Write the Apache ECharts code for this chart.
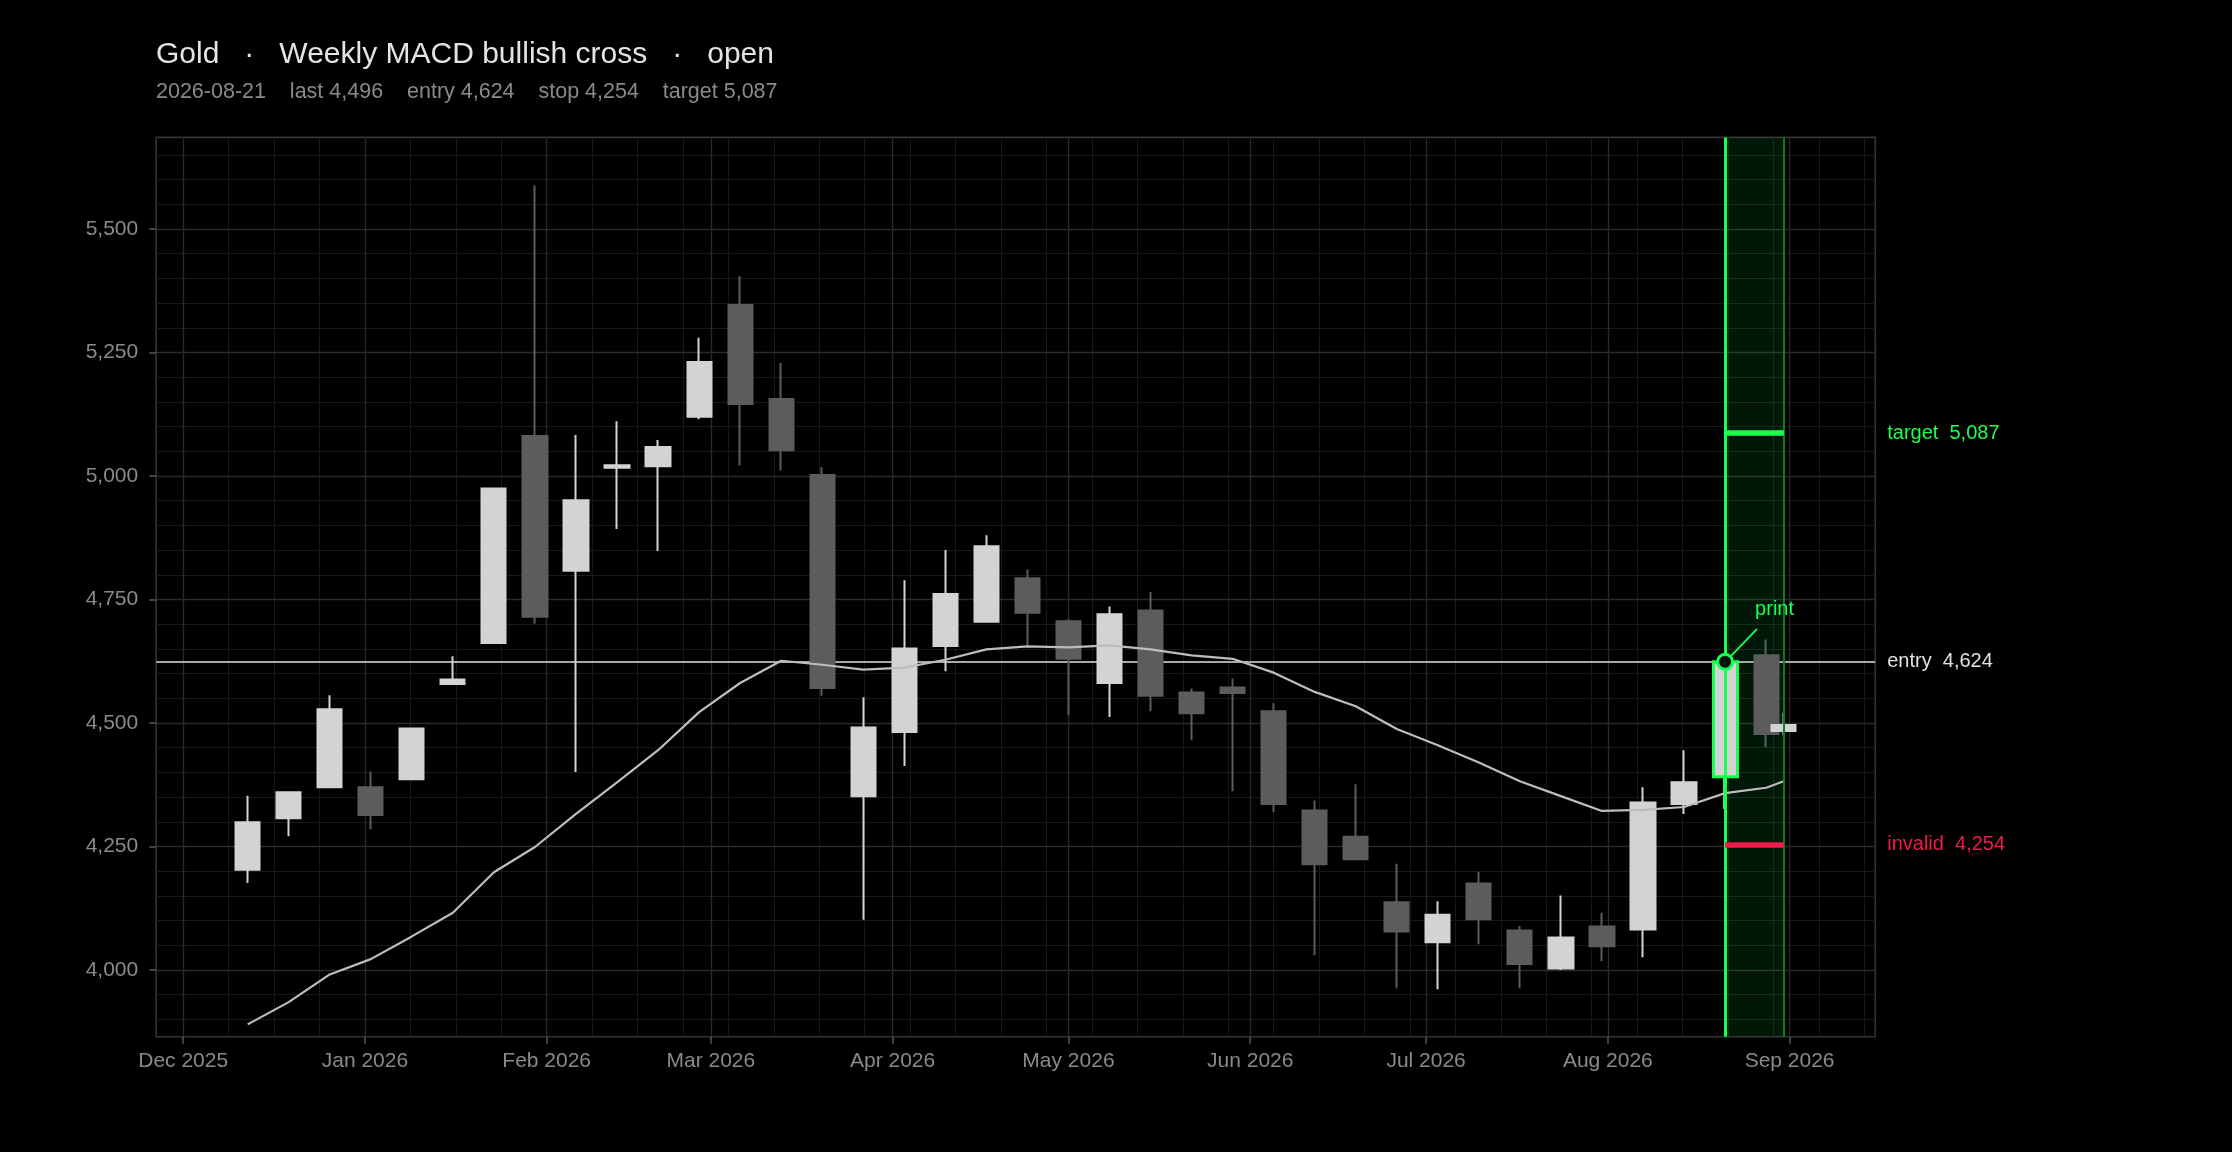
<!DOCTYPE html>
<html>
<head>
<meta charset="utf-8">
<script src="https://cdn.jsdelivr.net/npm/echarts@6/dist/echarts.min.js"></script>
<style>
html,body{margin:0;padding:0;background:#000;}
#chart{width:2232px;height:1152px;}
</style>
</head>
<body>
<div id="chart"></div>
<script>
// ---------- data ----------
const candleDates = ['2025-12-12','2025-12-19','2025-12-26','2026-01-02','2026-01-09','2026-01-16','2026-01-23','2026-01-30',
  '2026-02-06','2026-02-13','2026-02-20','2026-02-27','2026-03-06','2026-03-13','2026-03-20','2026-03-27',
  '2026-04-03','2026-04-10','2026-04-17','2026-04-24','2026-05-01','2026-05-08','2026-05-15','2026-05-22','2026-05-29',
  '2026-06-05','2026-06-12','2026-06-19','2026-06-26','2026-07-03','2026-07-10','2026-07-17','2026-07-24','2026-07-31',
  '2026-08-07','2026-08-14','2026-08-21','2026-08-28','2026-08-31'];
const opens  = [4203,4307,4370,4370,4386,4579,4662,5081,4808,5017,5020,5120,5346,5156,5002,4352,4482,4656,4705,4793,4706,4581,4728,4562,4572,4524,4323,4270,4137,4056,4175,4080,4003,4088,4082,4336,4391,4637,4484];
const closes = [4299,4360,4528,4314,4489,4588,4975,4715,4951,5022,5059,5231,5146,5052,4571,4491,4651,4761,4858,4723,4630,4720,4555,4520,4561,4336,4214,4224,4078,4112,4103,4012,4066,4048,4339,4380,4624,4478,4496];
const highs  = [4353,4362,4556,4402,4490,4635,4976,5588,5083,5111,5073,5280,5405,5229,5018,4552,4789,4850,4880,4811,4710,4736,4765,4570,4590,4540,4343,4376,4215,4139,4199,4089,4151,4116,4370,4445,4626,4669,4521];
const lows   = [4176,4271,4369,4285,4384,4577,4661,4701,4401,4893,4848,5115,5022,5011,4555,4102,4413,4605,4704,4657,4516,4512,4524,4465,4362,4320,4030,4222,3963,3961,4052,3963,4000,4018,4026,4316,4326,4451,4475];
const maValues = [3890,3935,3991,4022,4068,4116,4198,4249,4316,4380,4445,4522,4581,4626,4618,4608,4612,4628,4649,4655,4653,4657,4649,4637,4630,4602,4563,4534,4488,4455,4420,4382,4352,4322,4324,4330,4358,4369,4382];

const monthTicks  = ['2025-12-01','2026-01-01','2026-02-01','2026-03-01','2026-04-01','2026-05-01','2026-06-01','2026-07-01','2026-08-01','2026-09-01'];
const monthLabels = ['Dec 2025','Jan 2026','Feb 2026','Mar 2026','Apr 2026','May 2026','Jun 2026','Jul 2026','Aug 2026','Sep 2026'];
const priceTicks  = [4000,4250,4500,4750,5000,5250,5500];

const ASSET = 'Gold', SETUP = 'Weekly MACD bullish cross', STATUS = 'open';
const SIGNAL_DATE = '2026-08-21', LAST_DATE = '2026-08-31';
const LAST = 4496, ENTRY = 4624, STOP = 4254, TARGET = 5087;
const Y_MIN = 3865, Y_MAX = 5685.5;

// ---------- helpers ----------
const DAY = 86400000;
const ts = s => Date.parse(s + 'T00:00:00Z');
const fmt = v => Math.round(v).toLocaleString('en-US');

const FONT = "'Liberation Sans', Arial, Helvetica, sans-serif";
const UP = '#d3d3d3', DOWN = '#5c5c5c';
const GREEN = '#1aff50', GREEN_DIM = '#0e7d28', RED = '#f2194b';
const GRID_MINOR = '#191919', GRID_MAJOR = '#2a2a2a';

const G = {left:156.2, top:137.4, width:1719, height:899.3};

const candleDays = 4.55;
const signalIdx = candleDates.indexOf(SIGNAL_DATE);
const tFirst = ts(candleDates[0]) - candleDays / 2 * DAY;
const tLast  = ts(candleDates[candleDates.length - 1]) + candleDays / 2 * DAY;
const pad = 0.05 * (tLast - tFirst);
const X_MIN = tFirst - pad, X_MAX = tLast + pad;
const candlePx = G.width * candleDays * DAY / (X_MAX - X_MIN);

const monthTs = monthTicks.map(ts);

// minor gridlines (axis subdivision)
const xMinorStep = (monthTs[1] - monthTs[0]) / 4;
const xMinor = [];
for (let k = Math.ceil((X_MIN - monthTs[0]) / xMinorStep); monthTs[0] + k * xMinorStep <= X_MAX; k++) xMinor.push(monthTs[0] + k * xMinorStep);
const yMinorStep = (priceTicks[1] - priceTicks[0]) / 5;
const yMinor = [];
for (let v = Math.ceil(Y_MIN / yMinorStep) * yMinorStep; v <= Y_MAX; v += yMinorStep) yMinor.push(v);

const gridLines = [];
xMinor.forEach(t => gridLines.push({xAxis: t, lineStyle: {color: GRID_MINOR, width: 1, type: 'solid'}}));
yMinor.forEach(v => gridLines.push({yAxis: v, lineStyle: {color: GRID_MINOR, width: 1, type: 'solid'}}));
monthTs.forEach(t => { if (t > X_MIN && t < X_MAX) gridLines.push({xAxis: t, lineStyle: {color: GRID_MAJOR, width: 1.3, type: 'solid'}}); });
priceTicks.forEach(v => gridLines.push({yAxis: v, lineStyle: {color: GRID_MAJOR, width: 1.3, type: 'solid'}}));

const candleData = candleDates.map((d, i) => {
  const val = [ts(d), opens[i], closes[i], lows[i], highs[i]];
  if (i === signalIdx) return {value: val, itemStyle: {color: UP, borderColor: GREEN, borderWidth: 3}};
  return val;
});
const maData = candleDates.map((d, i) => [ts(d), maValues[i]]);

const sigT = ts(SIGNAL_DATE), lastT = ts(LAST_DATE);

const chart = echarts.init(document.getElementById('chart'), null, {renderer: 'canvas'});
chart.setOption({
  backgroundColor: '#000',
  animation: false,
  title: [
    {text: ASSET + '   ·   ' + SETUP + '   ·   ' + STATUS, left: 156, top: 40, padding: 0,
     textStyle: {fontFamily: FONT, fontSize: 30, fontWeight: 'normal', color: '#e4e4e4'}},
    {text: SIGNAL_DATE + '    last ' + fmt(LAST) + '    entry ' + fmt(ENTRY) + '    stop ' + fmt(STOP) + '    target ' + fmt(TARGET),
     left: 156, top: 81, padding: 0,
     textStyle: {fontFamily: FONT, fontSize: 21.5, fontWeight: 'normal', color: '#8a8a8a'}}
  ],
  grid: {left: G.left, top: G.top, width: G.width, height: G.height, show: true,
         borderColor: '#343434', borderWidth: 1.6, backgroundColor: 'transparent'},
  xAxis: {
    type: 'value', min: X_MIN, max: X_MAX,
    axisLine: {show: false},
    splitLine: {show: false},
    axisTick: {show: true, customValues: monthTs, length: 7, lineStyle: {color: '#5a5a5a', width: 1.5}},
    axisLabel: {show: true, customValues: monthTs, margin: 14, fontFamily: FONT, fontSize: 21, color: '#8a8a8a',
      formatter: v => { const i = monthTs.indexOf(v); return i >= 0 ? monthLabels[i] : ''; }}
  },
  yAxis: [
    {type: 'value', min: Y_MIN, max: Y_MAX, position: 'left',
     axisLine: {show: false}, splitLine: {show: false},
     axisTick: {show: true, customValues: priceTicks, length: 7, lineStyle: {color: '#5a5a5a', width: 1.5}},
     axisLabel: {show: true, customValues: priceTicks, margin: 18, fontFamily: FONT, fontSize: 21, color: '#8a8a8a',
       formatter: v => fmt(v)}},
    {type: 'value', min: Y_MIN, max: Y_MAX, position: 'right',
     axisLine: {show: false}, splitLine: {show: false}, axisTick: {show: false},
     axisLabel: {show: true, customValues: [STOP, ENTRY, TARGET], margin: 12, fontFamily: FONT, fontSize: 20,
       formatter: v => v === TARGET ? '{t|target  ' + fmt(v) + '}' : (v === ENTRY ? '{e|entry  ' + fmt(v) + '}' : '{s|invalid  ' + fmt(v) + '}'),
       rich: {t: {color: GREEN, fontFamily: FONT, fontSize: 20}, e: {color: '#e0e0e0', fontFamily: FONT, fontSize: 20}, s: {color: RED, fontFamily: FONT, fontSize: 20}}}}
  ],
  series: [
    {name: 'grid', type: 'line', data: [], z: 0, silent: true,
     markLine: {z: 0, silent: true, symbol: ['none', 'none'], label: {show: false}, animation: false, data: gridLines}},
    {name: 'window', type: 'line', data: [], z: 1, silent: true,
     markArea: {z: 1, silent: true, itemStyle: {color: 'rgba(10,255,80,0.095)'}, label: {show: false},
       data: [[{xAxis: sigT}, {xAxis: lastT}]]}},
    {name: 'entryLine', type: 'line', data: [], z: 2, silent: true,
     markLine: {z: 2, silent: true, symbol: ['none', 'none'], label: {show: false},
       data: [{yAxis: ENTRY, lineStyle: {color: '#a8a8a8', width: 1.8, type: 'solid'}}]}},
    {name: 'price', type: 'candlestick', data: candleData, z: 3, silent: true,
     encode: {x: 0, y: [1, 2, 3, 4]},
     barWidth: candlePx - 2,
     itemStyle: {color: UP, color0: DOWN, borderColor: UP, borderColor0: DOWN, borderWidth: 2}},
    {name: 'ma', type: 'line', data: maData, z: 5, silent: true, showSymbol: false, symbol: 'none',
     lineStyle: {color: '#bdbdbd', width: 2.2}},
    {name: 'levels', type: 'line', data: [], z: 6, silent: true,
     markLine: {z: 6, silent: true, symbol: ['none', 'none'], label: {show: false},
       data: [
         {xAxis: sigT, lineStyle: {color: GREEN, width: 3, type: 'solid'}},
         {xAxis: lastT, lineStyle: {color: GREEN_DIM, width: 2, type: 'solid'}},
         [{coord: [sigT, TARGET]}, {coord: [lastT, TARGET], lineStyle: {color: GREEN, width: 5.5, type: 'solid', cap: 'butt'}}],
         [{coord: [sigT, STOP]}, {coord: [lastT, STOP], lineStyle: {color: RED, width: 5.5, type: 'solid', cap: 'butt'}}]
       ]}},
    {name: 'printNote', type: 'custom', z: 7, silent: true, data: [[sigT, ENTRY]],
     renderItem: (params, api) => {
       const p = api.coord([api.value(0), api.value(1)]);
       return {type: 'group', children: [
         {type: 'line', shape: {x1: p[0] + 6, y1: p[1] - 6, x2: p[0] + 32, y2: p[1] - 33},
          style: {stroke: GREEN, lineWidth: 1.8}},
         {type: 'text', style: {text: 'print', x: p[0] + 30, y: p[1] - 52, fill: GREEN,
          fontFamily: FONT, fontSize: 20, align: 'left', verticalAlign: 'middle'}}
       ]};
     }},
    {name: 'signal', type: 'scatter', z: 8, silent: true, data: [[sigT, ENTRY]], symbol: 'circle', symbolSize: 15,
     itemStyle: {color: '#02140a', borderColor: GREEN, borderWidth: 3, opacity: 1}}
  ]
});
</script>
</body>
</html>
